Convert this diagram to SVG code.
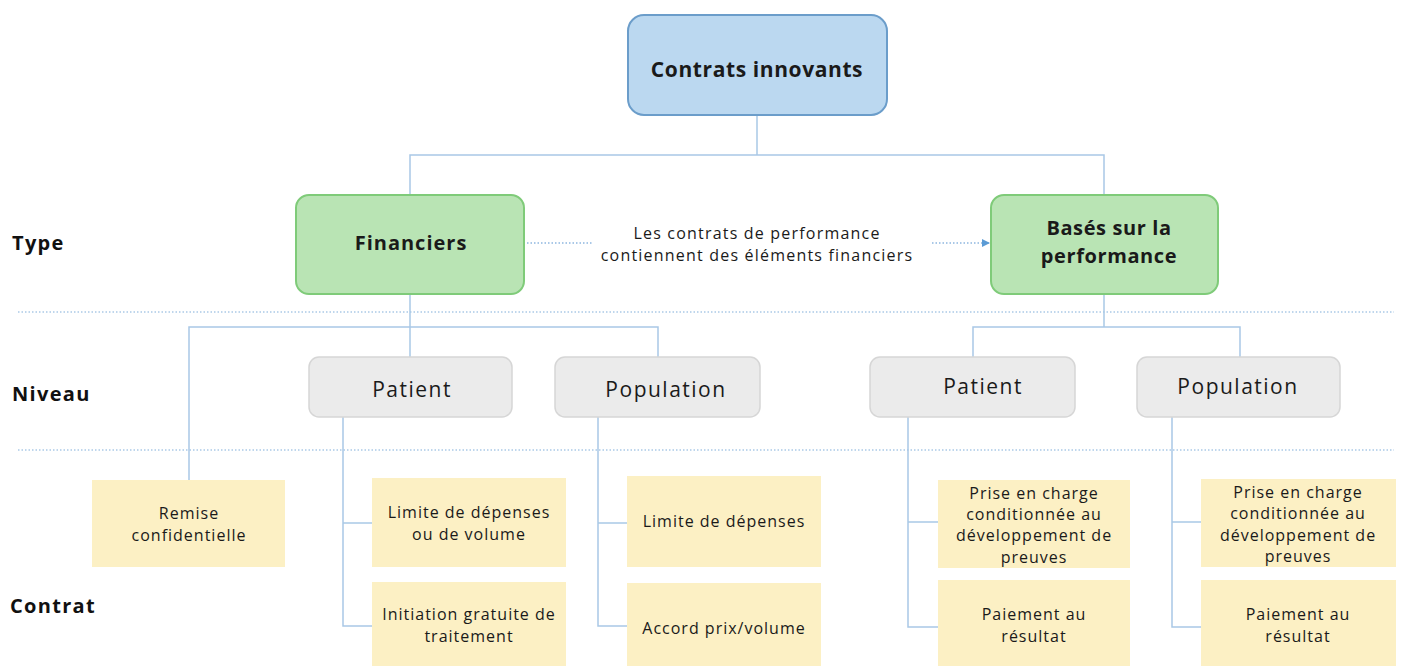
<svg xmlns="http://www.w3.org/2000/svg" width="1403" height="666" viewBox="0 0 1403 666">
<defs>
<style>
.t{font-family:"Open Sans","Liberation Sans",sans-serif;fill:#1a1a1a;text-anchor:middle}
.b{font-weight:bold;letter-spacing:0.6px}
.s{letter-spacing:1px}
.m{letter-spacing:1.2px}
.l{letter-spacing:1.5px}
.lbl{font-family:"Open Sans","Liberation Sans",sans-serif;font-weight:bold;font-size:20px;fill:#111;letter-spacing:1.3px}
.root{fill:#bbd8f0;stroke:#6b9dca;stroke-width:2}
.type{fill:#b9e4b4;stroke:#7fcb79;stroke-width:2}
.lvl{fill:#ebebeb;stroke:#d6d6d6;stroke-width:1.5}
.ct{fill:#fcf0c4}
.c{fill:none;stroke:#a9c8e6;stroke-width:1.5}
.sep{fill:none;stroke:#aac9e6;stroke-width:1.5;stroke-dasharray:1.5 2}
.dot{fill:none;stroke:#8db6e0;stroke-width:1.5;stroke-dasharray:1.5 2}
</style>
<marker id="ah" markerWidth="8" markerHeight="8" refX="7" refY="4" orient="auto" markerUnits="userSpaceOnUse">
<path d="M0,0 L8,4 L0,8 Z" fill="#5b9bd5"/>
</marker>
</defs>
<rect width="1403" height="666" fill="#ffffff"/>

<g id="separators">
<line class="sep" x1="18" y1="312" x2="1394" y2="312"/>
<line class="sep" x1="18" y1="450" x2="1394" y2="450"/>
</g>

<g id="row-labels">
<text class="lbl" x="12" y="250">Type</text>
<text class="lbl" x="12" y="401">Niveau</text>
<text class="lbl" x="10" y="613">Contrat</text>
</g>

<g id="connectors">
<polyline class="c" points="757,115 757,155"/>
<polyline class="c" points="410,195 410,155 1104,155 1104,195"/>
<polyline class="c" points="410,294 410,357"/>
<polyline class="c" points="189,480 189,327 658,327 658,357"/>
<polyline class="c" points="1104,294 1104,327"/>
<polyline class="c" points="973,357 973,327 1240,327 1240,357"/>
<polyline class="c" points="343,417 343,626 372,626"/>
<line class="c" x1="343" y1="523" x2="372" y2="523"/>
<polyline class="c" points="598,417 598,626 627,626"/>
<line class="c" x1="598" y1="523" x2="627" y2="523"/>
<polyline class="c" points="908,417 908,627 938,627"/>
<line class="c" x1="908" y1="522" x2="938" y2="522"/>
<polyline class="c" points="1172,417 1172,627 1201,627"/>
<line class="c" x1="1172" y1="522" x2="1201" y2="522"/>
<line class="dot" x1="527" y1="243" x2="592" y2="243"/>
<line class="dot" x1="932" y1="243" x2="989" y2="243" marker-end="url(#ah)"/>
<text class="t m" font-size="16" x="757" y="239">Les contrats de performance</text>
<text class="t m" font-size="16" x="757" y="261">contiennent des éléments financiers</text>
</g>

<g id="root">
<rect class="root" x="628" y="15" width="259" height="100" rx="16"/>
<text class="t b" font-size="21" x="757" y="77">Contrats innovants</text>
</g>

<g id="financiers">
<rect class="type" x="296" y="195" width="228" height="99" rx="13"/>
<text class="t b" font-size="20" x="411" y="250" style="letter-spacing:1px">Financiers</text>
</g>
<g id="performance">
<rect class="type" x="991" y="195" width="227" height="99" rx="13"/>
<text class="t b" font-size="20" x="1109" y="235">Basés sur la</text>
<text class="t b" font-size="20" x="1109" y="263">performance</text>
</g>

<g id="fin-patient">
<rect class="lvl" x="309" y="357" width="203" height="60" rx="10"/>
<text class="t l" font-size="21" x="412" y="397">Patient</text>
</g>
<g id="fin-population">
<rect class="lvl" x="555" y="357" width="205" height="60" rx="10"/>
<text class="t l" font-size="21" x="666" y="397">Population</text>
</g>
<g id="perf-patient">
<rect class="lvl" x="870" y="357" width="205" height="60" rx="10"/>
<text class="t l" font-size="21" x="983" y="394">Patient</text>
</g>
<g id="perf-population">
<rect class="lvl" x="1137" y="357" width="203" height="60" rx="10"/>
<text class="t l" font-size="21" x="1238" y="394">Population</text>
</g>

<g id="remise">
<rect class="ct" x="92" y="480" width="193" height="87"/>
<text class="t s" font-size="16" x="189" y="519">Remise</text>
<text class="t s" font-size="16" x="189" y="541">confidentielle</text>
</g>
<g id="limite-volume">
<rect class="ct" x="372" y="478" width="194" height="89"/>
<text class="t s" font-size="16" x="469" y="518">Limite de dépenses</text>
<text class="t s" font-size="16" x="469" y="540">ou de volume</text>
</g>
<g id="initiation">
<rect class="ct" x="372" y="582" width="194" height="84"/>
<text class="t s" font-size="16" x="469" y="620">Initiation gratuite de</text>
<text class="t s" font-size="16" x="469" y="642">traitement</text>
</g>
<g id="limite">
<rect class="ct" x="627" y="476" width="194" height="91"/>
<text class="t s" font-size="16" x="724" y="527">Limite de dépenses</text>
</g>
<g id="accord">
<rect class="ct" x="627" y="583" width="194" height="83"/>
<text class="t s" font-size="16" x="724" y="634">Accord prix/volume</text>
</g>
<g id="perf-patient-prise">
<rect class="ct" x="938" y="480" width="192" height="88"/>
<text class="t s" font-size="16" x="1034" y="499">Prise en charge</text>
<text class="t s" font-size="16" x="1034" y="520">conditionnée au</text>
<text class="t s" font-size="16" x="1034" y="541">développement de</text>
<text class="t s" font-size="16" x="1034" y="563">preuves</text>
</g>
<g id="perf-patient-paiement">
<rect class="ct" x="938" y="580" width="192" height="86"/>
<text class="t s" font-size="16" x="1034" y="620">Paiement au</text>
<text class="t s" font-size="16" x="1034" y="642">résultat</text>
</g>
<g id="perf-pop-prise">
<rect class="ct" x="1201" y="479" width="195" height="88"/>
<text class="t s" font-size="16" x="1298" y="498">Prise en charge</text>
<text class="t s" font-size="16" x="1298" y="519">conditionnée au</text>
<text class="t s" font-size="16" x="1298" y="541">développement de</text>
<text class="t s" font-size="16" x="1298" y="562">preuves</text>
</g>
<g id="perf-pop-paiement">
<rect class="ct" x="1201" y="580" width="195" height="86"/>
<text class="t s" font-size="16" x="1298" y="620">Paiement au</text>
<text class="t s" font-size="16" x="1298" y="642">résultat</text>
</g>
</svg>
